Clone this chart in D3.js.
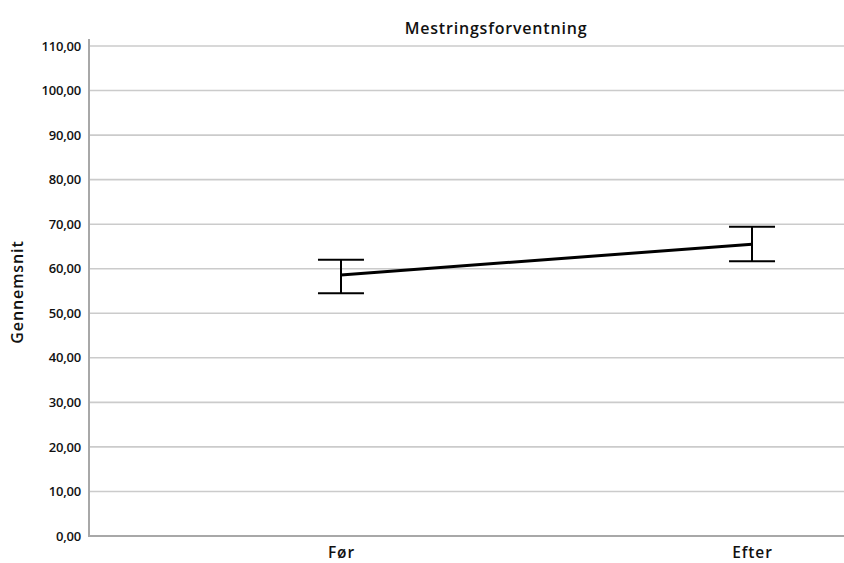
<!DOCTYPE html>
<html><head><meta charset="utf-8">
<script src="https://cdn.jsdelivr.net/npm/d3@7"></script>
<style>body{margin:0;background:#fff}svg{display:block}text{font-family:"Open Sans",sans-serif;fill:#111}</style>
</head><body><svg id="c" width="844" height="563"></svg>
<script>
const categories = ["Før", "Efter"];
const means = [58.6, 65.5];
const lower = [54.5, 61.7];
const upper = [62.0, 69.4];
const yTicks = [0,10,20,30,40,50,60,70,80,90,100,110];
const title = "Mestringsforventning";
const yLabel = "Gennemsnit";

(function(){
const svg = d3.select("#c");
const L = 89, R = 1004, T = 46, B = 536;
const y = d3.scaleLinear().domain([0,110]).range([B, T]);
const x = d3.scalePoint().domain(categories).range([L, R]).padding(0.613);
const fmt = v => v.toFixed(2).replace(".", ",");
const FF = "'Open Sans',sans-serif";

// gridlines
svg.append("g").selectAll("line").data(yTicks.filter(d=>d>0)).join("line")
  .attr("x1", L+1).attr("x2", R).attr("y1", d=>y(d)).attr("y2", d=>y(d))
  .attr("stroke", "#cbcbcb").attr("stroke-width", 1.6);

// y axis
const yAxis = svg.append("g").attr("transform", `translate(${L},0)`)
  .call(d3.axisLeft(y).tickValues(yTicks).tickFormat(fmt).tickSize(0).tickPadding(8));
yAxis.select(".domain").remove();
yAxis.selectAll("text").attr("font-size", 13).attr("font-weight", 600).attr("fill","#1a1a1a")
  .attr("letter-spacing", -0.2).style("font-family",FF);
svg.append("line").attr("x1", L).attr("x2", L).attr("y1", T-7).attr("y2", B+1)
  .attr("stroke", "#a8a8a8").attr("stroke-width", 2);

// x axis
const xAxis = svg.append("g").attr("transform", `translate(0,${B})`)
  .call(d3.axisBottom(x).tickSize(0).tickPadding(11));
xAxis.select(".domain").remove();
xAxis.selectAll("text").attr("font-size", 15.5).attr("font-weight", 600).attr("fill","#111")
  .attr("letter-spacing", 0.9).style("font-family",FF);
svg.append("line").attr("x1", L).attr("x2", R).attr("y1", B).attr("y2", B)
  .attr("stroke", "#a8a8a8").attr("stroke-width", 2);

// error bars
const capW = 23;
const eb = svg.append("g").attr("stroke", "#000").attr("stroke-width", 2);
categories.forEach((c,i) => {
  const cx = x(c);
  eb.append("line").attr("x1", cx).attr("x2", cx).attr("y1", y(upper[i])).attr("y2", y(lower[i]));
  eb.append("line").attr("x1", cx-capW).attr("x2", cx+capW).attr("y1", y(upper[i])).attr("y2", y(upper[i]));
  eb.append("line").attr("x1", cx-capW).attr("x2", cx+capW).attr("y1", y(lower[i])).attr("y2", y(lower[i]));
});

// mean line
svg.append("path").datum(categories.map((c,i)=>[x(c), y(means[i])]))
  .attr("d", d3.line()).attr("fill","none").attr("stroke","#000").attr("stroke-width", 3);

// title
svg.append("text").attr("x", 496).attr("y", 34).attr("text-anchor","middle")
  .attr("font-size", 16).attr("font-weight", 600).attr("letter-spacing", 0.8).style("font-family",FF).text(title);

// y label
svg.append("text").attr("transform", `translate(23,292) rotate(-90)`)
  .attr("text-anchor","middle").attr("font-size", 16).attr("font-weight", 600).attr("letter-spacing", 0.9).style("font-family",FF).text(yLabel);
})();
</script></body></html>
